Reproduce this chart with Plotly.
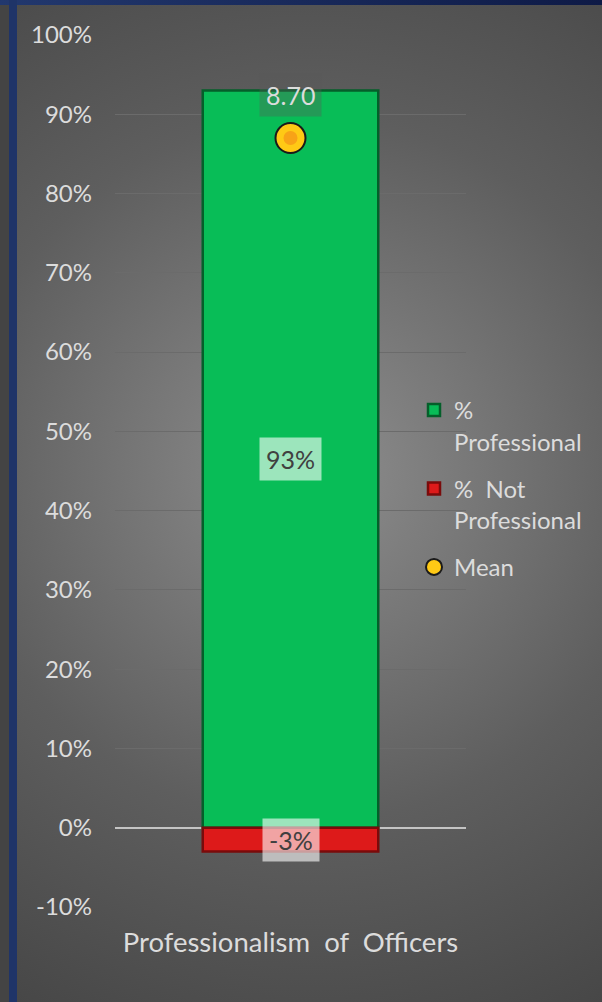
import base64
import plotly.graph_objects as go

# Survey result for one rating question
categories = ["Professionalism\u00a0 of\u00a0 Officers"]
pct_professional = [93]
pct_not_professional = [-3]
mean_score = [8.70]          # mean on a 0-10 scale, plotted as a percentage
y_ticks = [-10, 0, 10, 20, 30, 40, 50, 60, 70, 80, 90, 100]
y_tick_labels = [f"{t}%" for t in y_ticks]

W, H = 602, 1002
M = dict(l=115, r=136, t=35, b=95, autoexpand=False)
FONT = "Lato"
LIGHT = "#dcdcdc"

# Backdrop: framed panel with a radial grey gradient
svg = f"""<svg xmlns='http://www.w3.org/2000/svg' width='{W}' height='{H}'>
<defs>
<radialGradient id='g' gradientUnits='userSpaceOnUse' cx='310' cy='470' r='640'>
<stop offset='0' stop-color='#8e8e8e'/>
<stop offset='0.55' stop-color='#5e5e5e'/>
<stop offset='1' stop-color='#444444'/>
</radialGradient>
<linearGradient id='t' x1='0' y1='0' x2='1' y2='0'>
<stop offset='0' stop-color='#22386e'/>
<stop offset='1' stop-color='#0e1a46'/>
</linearGradient>
</defs>
<rect x='0' y='0' width='{W}' height='{H}' fill='#444444'/>
<rect x='17' y='5' width='{W-17}' height='{H-5}' fill='url(#g)'/>
<rect x='0' y='0' width='{W}' height='5' fill='url(#t)'/>
<rect x='9' y='0' width='8' height='{H}' fill='#1f3468'/>
</svg>"""
bg_src = "data:image/svg+xml;base64," + base64.b64encode(svg.encode()).decode()

pw = W - M["l"] - M["r"]
ph = H - M["t"] - M["b"]

fig = go.Figure()

fig.add_trace(go.Bar(
    x=categories, y=pct_professional, name="%<br>Professional",
    marker=dict(color="#08bd57", line=dict(color="#045f2a", width=2.5)),
    width=0.5, legendgroup="a",
))
fig.add_trace(go.Bar(
    x=categories, y=pct_not_professional, name="%\u00a0 Not<br>Professional",
    marker=dict(color="#dd1a1a", line=dict(color="#7a0b0b", width=2.5)),
    width=0.5, legendgroup="b",
))
mean_pct = [m * 10 for m in mean_score]
fig.add_trace(go.Scatter(
    x=categories, y=mean_pct, mode="markers", name="Mean",
    marker=dict(size=30, color="#ffc915", line=dict(color="#1a1a1a", width=2)),
    legendgroup="c",
))
fig.add_trace(go.Scatter(
    x=categories, y=mean_pct, mode="markers", showlegend=False, hoverinfo="skip",
    marker=dict(size=14, color="#f8a317", line=dict(width=0)),
))

# Value labels
for c, v in zip(categories, pct_professional):
    fig.add_annotation(x=c, y=v / 2, text=f"{v}%", showarrow=False,
                       font=dict(family=FONT, size=25, color="#404040"),
                       bgcolor="rgba(255,255,255,0.6)", borderpad=6)
for c, v in zip(categories, pct_not_professional):
    fig.add_annotation(x=c, y=v / 2, text=f"{v}%", showarrow=False,
                       font=dict(family=FONT, size=25, color="#404040"),
                       bgcolor="rgba(255,255,255,0.6)", borderpad=6)
for c, v, m in zip(categories, mean_pct, mean_score):
    fig.add_annotation(x=c, y=v, yshift=43, text=f"{m:.2f}", showarrow=False,
                       font=dict(family=FONT, size=25, color=LIGHT),
                       bgcolor="rgba(90,90,90,0.35)", borderpad=6)

fig.add_layout_image(dict(
    source=bg_src, xref="paper", yref="paper",
    x=-M["l"] / pw, y=1 + M["t"] / ph, sizex=W / pw, sizey=H / ph,
    xanchor="left", yanchor="top", sizing="stretch", layer="below",
))

fig.update_layout(
    width=W, height=H, margin=M,
    paper_bgcolor="#555555", plot_bgcolor="rgba(0,0,0,0)",
    barmode="relative", bargap=0.5,
    font=dict(family=FONT, size=24, color=LIGHT),
    showlegend=True,
    legend=dict(x=(414 - M["l"]) / pw, y=(H - M["b"] - 388) / ph,
                xanchor="left", yanchor="top", bgcolor="rgba(0,0,0,0)",
                font=dict(family=FONT, size=24, color=LIGHT),
                valign="top", traceorder="grouped", tracegroupgap=13,
                itemwidth=30),
    xaxis=dict(showgrid=False, showline=False, ticks="", ticklabelstandoff=16,
               tickfont=dict(family=FONT, size=27.5, color=LIGHT)),
    yaxis=dict(range=[-10, 100], tickvals=y_ticks, ticktext=y_tick_labels,
               showgrid=True, gridcolor="#6b6b6b", gridwidth=1,
               zeroline=True, zerolinecolor="#c4c4c4", zerolinewidth=2,
               showline=False, ticks="", ticklabelstandoff=22,
               tickfont=dict(family=FONT, size=24, color=LIGHT)),
)

fig.write_html("out.html")
